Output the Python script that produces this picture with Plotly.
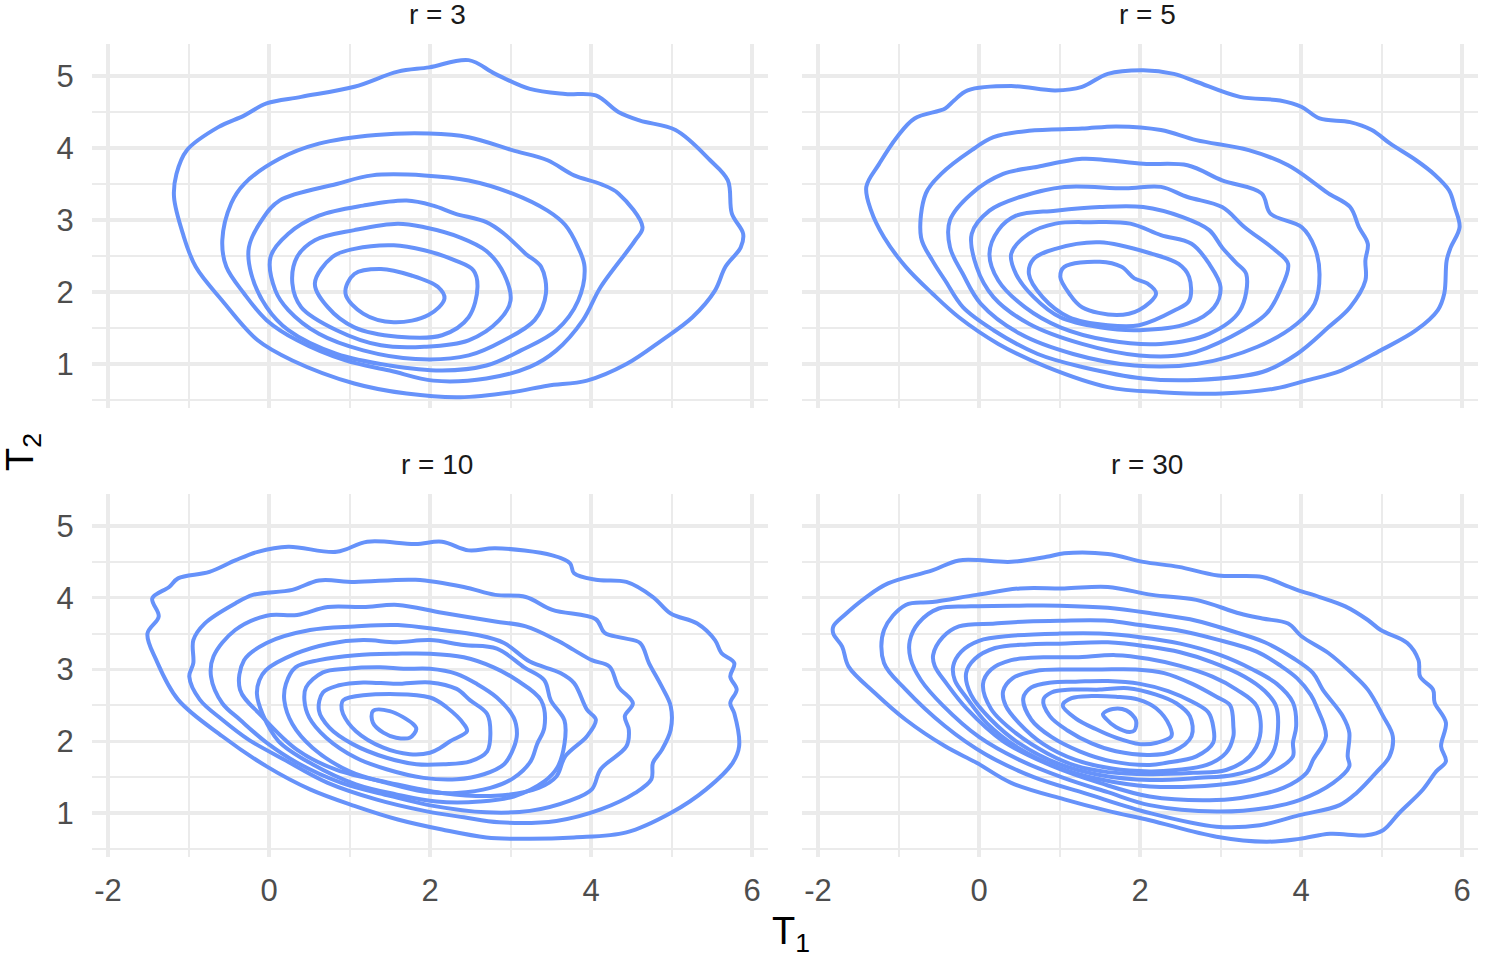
import plotly.graph_objects as go

# ---------------- data (contour paths, data units) ----------------
PANEL_TITLES = ["r = 3", "r = 5", "r = 10", "r = 30"]

X_MAJOR = [-2, 0, 2, 4, 6]
X_MINOR = [-1, 1, 3, 5]
Y_MAJOR = [1, 2, 3, 4, 5]
Y_MINOR = [0.5, 1.5, 2.5, 3.5, 4.5]
X_TICKTEXT = ["-2", "0", "2", "4", "6"]
Y_TICKTEXT = ["1", "2", "3", "4", "5"]

R3_CONTOURS = [
    [(2.48,5.22),(2.81,5.03),(3.24,4.82),(3.68,4.75),(4.06,4.73),(4.34,4.5),(4.61,4.38),(5.05,4.25),
     (5.48,3.83),(5.70,3.55),(5.75,3.09),(5.89,2.81),(5.86,2.62),(5.67,2.35),(5.54,2.02),(5.26,1.65),
     (4.88,1.33),(4.44,1.0),(3.95,0.77),(3.46,0.70),(3.02,0.61),(2.37,0.54),(1.71,0.59),(1.06,0.73),
     (0.29,1.05),(-0.14,1.33),(-0.58,1.88),(-0.91,2.35),(-1.07,2.81),(-1.18,3.32),(-1.15,3.64),
     (-1.02,3.97),(-0.63,4.29),(-0.31,4.45),(-0.03,4.62),(0.4,4.71),(1.06,4.85),(1.6,5.06),(1.99,5.12)],
    [(1.99,4.2),(2.48,4.15),(3.02,3.97),(3.46,3.83),(3.79,3.62),(4.12,3.5),(4.34,3.37),(4.64,2.90),
     (4.55,2.72),(4.12,2.07),(3.90,1.61),(3.57,1.19),(3.24,0.96),(2.70,0.80),(2.04,0.77),(1.5,0.91),
     (0.95,1.05),(0.35,1.33),(-0.03,1.61),(-0.31,1.98),(-0.53,2.35),(-0.58,2.72),(-0.47,3.23),
     (-0.31,3.5),(0.13,3.85),(0.62,4.06),(1.33,4.18)],
    [(1.93,3.62),(2.48,3.55),(3.02,3.37),(3.46,3.13),(3.68,2.93),(3.84,2.62),(3.92,2.35),(3.84,1.88),
     (3.57,1.47),(3.13,1.19),(2.70,0.98),(2.15,0.91),(1.5,0.98),(0.84,1.14),(0.24,1.47),(-0.03,1.79),
     (-0.22,2.25),(-0.25,2.62),(-0.09,3.0),(0.13,3.27),(0.84,3.50),(1.28,3.62)],
    [(1.71,3.27),(2.04,3.2),(2.31,3.09),(2.70,2.97),(2.92,2.81),(3.19,2.53),(3.38,2.35),(3.44,1.98),
     (3.30,1.61),(2.92,1.33),(2.48,1.12),(1.82,1.07),(1.17,1.19),(0.62,1.42),(0.24,1.75),(0.08,2.02),
     (0.02,2.49),(0.24,2.81),(0.62,3.06),(1.17,3.2)],
    [(1.6,2.95),(1.93,2.90),(2.37,2.76),(2.70,2.57),(2.92,2.25),(3.0,1.88),(2.86,1.61),(2.48,1.33),
     (1.93,1.24),(1.39,1.26),(0.84,1.47),(0.40,1.79),(0.29,2.12),(0.35,2.49),(0.57,2.72),(1.06,2.86)],
    [(1.55,2.65),(1.93,2.58),(2.31,2.44),(2.54,2.30),(2.59,2.07),(2.48,1.65),(2.15,1.40),(1.6,1.38),
     (1.06,1.51),(0.73,1.79),(0.57,2.12),(0.79,2.49),(1.06,2.6)],
    [(1.39,2.32),(1.77,2.23),(2.10,2.07),(2.18,1.91),(1.98,1.68),(1.55,1.58),(1.17,1.70),(0.95,1.98),
     (1.06,2.25)],
]

R5_CONTOURS = [
    [(2.04,5.08),(2.42,5.03),(2.70,4.92),(3.24,4.71),(3.74,4.66),(4.01,4.57),(4.23,4.41),(4.61,4.36),
     (4.88,4.25),(5.11,4.06),(5.43,3.83),(5.65,3.64),(5.84,3.41),(5.91,3.18),(5.97,2.90),(5.86,2.62),
     (5.81,2.44),(5.78,1.98),(5.70,1.75),(5.43,1.47),(4.99,1.19),(4.50,0.91),(4.06,0.77),(3.68,0.66),
     (3.02,0.59),(2.26,0.61),(1.6,0.68),(0.84,0.96),(0.24,1.28),(-0.25,1.65),(-0.58,1.98),(-0.91,2.35),
     (-1.18,2.76),(-1.34,3.13),(-1.40,3.46),(-1.24,3.78),(-1.02,4.15),(-0.80,4.41),(-0.42,4.55),
     (-0.31,4.66),(-0.14,4.80),(0.40,4.86),(0.95,4.80),(1.28,4.85),(1.6,5.03)],
    [(1.71,4.30),(2.26,4.25),(2.70,4.11),(3.35,3.97),(3.84,3.76),(4.17,3.51),(4.34,3.37),(4.61,3.18),
     (4.72,2.90),(4.83,2.67),(4.80,2.44),(4.80,2.16),(4.61,1.79),(4.34,1.51),(3.95,1.14),(3.52,0.89),
     (2.70,0.78),(2.04,0.80),(1.28,0.96),(0.73,1.14),(0.18,1.47),(-0.20,1.79),(-0.42,2.16),(-0.58,2.44),
     (-0.72,2.76),(-0.66,3.37),(-0.47,3.64),(-0.09,3.97),(0.18,4.15),(0.62,4.24),(1.28,4.27)],
    [(1.28,3.85),(1.60,3.83),(2.04,3.78),(2.59,3.76),(3.02,3.55),(3.51,3.37),(3.62,3.09),(4.01,2.90),
     (4.17,2.62),(4.23,2.25),(4.17,1.84),(3.95,1.56),(3.46,1.24),(2.70,1.0),(1.93,0.98),(1.17,1.14),
     (0.51,1.42),(0.02,1.84),(-0.20,2.25),(-0.36,2.62),(-0.36,3.0),(-0.09,3.37),(0.30,3.64),(0.73,3.74)],
    [(1.06,3.46),(1.82,3.44),(2.26,3.46),(2.59,3.32),(3.02,3.18),(3.30,2.90),(3.68,2.58),(3.84,2.39),
     (3.74,2.02),(3.57,1.70),(3.13,1.38),(2.59,1.14),(1.99,1.12),(1.28,1.28),(0.62,1.56),(0.18,1.93),
     (-0.03,2.35),(-0.09,2.81),(0.13,3.13),(0.51,3.32)],
    [(0.95,3.13),(1.50,3.18),(2.04,3.18),(2.53,3.04),(2.86,2.86),(3.02,2.62),(3.19,2.41),(3.32,2.25),
     (3.24,1.74),(2.86,1.42),(2.26,1.28),(1.60,1.33),(1.01,1.51),(0.57,1.79),(0.24,2.16),(0.13,2.53),
     (0.24,2.86),(0.46,3.06)],
    [(0.95,2.95),(1.39,2.97),(1.88,2.95),(2.26,2.79),(2.64,2.67),(2.86,2.39),(3.0,2.07),(2.92,1.79),
     (2.59,1.56),(1.99,1.47),(1.50,1.51),(1.01,1.65),(0.68,1.93),(0.46,2.25),(0.40,2.53),(0.62,2.81)],
    [(1.50,2.69),(2.15,2.53),(2.48,2.39),(2.61,2.21),(2.61,1.88),(2.42,1.74),(1.99,1.54),(1.60,1.54),
     (1.12,1.65),(0.79,1.93),(0.62,2.25),(0.68,2.46),(0.95,2.60)],
    [(1.50,2.42),(1.77,2.35),(1.93,2.19),(2.09,2.12),(2.20,1.98),(1.99,1.75),(1.71,1.68),(1.28,1.79),
     (1.12,1.98),(1.01,2.21),(1.06,2.35)],
]

R10_CONTOURS = [
    [(1.22,4.78),(1.82,4.75),(2.15,4.78),(2.48,4.66),(2.81,4.69),(3.52,4.59),(3.74,4.48),(3.79,4.34),
     (4.06,4.25),(4.44,4.22),(4.77,4.01),(4.99,3.78),(5.32,3.64),(5.54,3.41),(5.62,3.23),(5.78,3.09),
     (5.73,2.90),(5.81,2.72),(5.73,2.53),(5.78,2.39),(5.84,1.93),(5.76,1.70),(5.43,1.33),(4.99,1.0),
     (4.44,0.73),(3.79,0.66),(3.24,0.64),(2.70,0.66),(2.15,0.77),(1.60,0.91),(1.06,1.10),(0.51,1.33),
     (-0.03,1.65),(-0.58,2.07),(-1.13,2.58),(-1.40,3.13),(-1.51,3.50),(-1.37,3.74),(-1.45,3.99),
     (-1.24,4.15),(-1.13,4.27),(-0.74,4.36),(-0.42,4.52),(-0.14,4.64),(0.24,4.71),(0.84,4.64)],
    [(1.82,4.25),(2.42,4.15),(2.81,4.04),(3.19,4.01),(3.52,3.83),(4.06,3.70),(4.17,3.51),(4.39,3.44),
     (4.61,3.37),(4.72,3.09),(4.88,2.76),(4.99,2.49),(4.99,2.16),(4.88,1.88),(4.77,1.70),(4.75,1.47),
     (4.55,1.28),(4.12,1.05),(3.57,0.89),(2.86,0.87),(2.42,0.94),(1.93,1.03),(1.33,1.19),(0.73,1.42),
     (0.18,1.75),(-0.25,2.02),(-0.58,2.30),(-0.86,2.58),(-0.99,2.90),(-0.94,3.09),(-0.94,3.41),
     (-0.80,3.64),(-0.42,3.92),(-0.20,4.04),(0.29,4.11),(0.62,4.24),(1.06,4.22)],
    [(1.17,3.87),(1.60,3.90),(2.15,3.79),(2.81,3.67),(3.19,3.60),(3.57,3.41),(3.79,3.27),(4.01,3.13),
     (4.23,3.04),(4.34,2.76),(4.52,2.53),(4.42,2.35),(4.47,2.16),(4.44,1.93),(4.12,1.61),(4.01,1.33),
     (3.73,1.17),(3.24,1.03),(2.70,1.01),(2.04,1.10),(1.50,1.24),(0.90,1.42),(0.35,1.70),(-0.03,1.98),
     (-0.36,2.30),(-0.58,2.53),(-0.72,2.90),(-0.69,3.18),(-0.42,3.55),(-0.03,3.75),(0.35,3.76),(0.73,3.87)],
    [(1.06,3.60),(1.60,3.62),(2.15,3.55),(2.59,3.48),(2.92,3.37),(3.24,3.11),(3.62,2.95),(3.79,2.81),
     (3.95,2.44),(4.06,2.30),(3.95,2.07),(3.68,1.79),(3.57,1.51),(3.35,1.35),(2.81,1.24),(2.15,1.28),
     (1.50,1.42),(0.84,1.60),(0.35,1.88),(-0.09,2.35),(-0.36,2.72),(-0.31,3.13),(-0.03,3.37),(0.51,3.55)],
    [(1.17,3.41),(1.58,3.38),(2.0,3.41),(2.42,3.34),(2.83,3.29),(3.17,3.03),(3.42,2.85),(3.50,2.57),
     (3.67,2.29),(3.67,1.96),(3.58,1.63),(3.42,1.44),(3.04,1.23),(2.62,1.16),(2.08,1.16),(1.58,1.26),
     (1.08,1.40),(0.54,1.68),(0.12,2.0),(-0.08,2.38),(-0.15,2.66),(-0.12,2.85),(-0.04,2.99),(0.33,3.22),
     (0.75,3.36)],
    [(1.08,3.2),(1.58,3.22),(2.0,3.22),(2.42,3.17),(2.79,3.03),(3.08,2.85),(3.38,2.57),(3.42,2.19),
     (3.33,1.96),(3.25,1.72),(3.04,1.49),(2.75,1.35),(2.33,1.28),(1.92,1.30),(1.46,1.42),(1.0,1.58),
     (0.54,1.91),(0.29,2.24),(0.19,2.57),(0.21,2.80),(0.33,3.03),(0.62,3.13)],
    [(0.96,3.01),(1.38,3.03),(1.67,3.01),(2.0,3.01),(2.33,2.94),(2.58,2.80),(2.83,2.61),(3.04,2.33),
     (3.08,2.10),(3.04,1.91),(2.92,1.68),(2.67,1.54),(2.33,1.47),(1.92,1.49),(1.46,1.61),(1.08,1.77),
     (0.71,2.05),(0.5,2.33),(0.44,2.57),(0.46,2.75),(0.67,2.96)],
    [(0.87,2.78),(1.17,2.82),(1.58,2.80),(2.0,2.82),(2.33,2.73),(2.5,2.57),(2.71,2.38),(2.75,2.10),
     (2.71,1.86),(2.5,1.72),(2.17,1.68),(1.83,1.68),(1.46,1.77),(1.04,1.96),(0.75,2.19),(0.62,2.43),
     (0.67,2.68)],
    [(0.92,2.57),(1.17,2.64),(2.0,2.61),(2.21,2.47),(2.42,2.24),(2.46,2.14),(2.25,2.0),(2.13,1.91),
     (2.0,1.84),(1.75,1.82),(1.42,1.91),(1.08,2.14),(0.92,2.38),(0.9,2.5)],
    [(1.29,2.42),(1.5,2.42),(1.79,2.24),(1.83,2.17),(1.75,2.05),(1.58,2.05),(1.42,2.12),(1.29,2.26)],
]

R30_CONTOURS = [
    [(-1.81,3.60),(-1.67,3.76),(-1.40,4.01),(-1.13,4.20),(-0.58,4.38),(-0.25,4.52),(0.40,4.50),
     (0.84,4.57),(1.06,4.62),(1.60,4.61),(2.04,4.50),(2.48,4.43),(2.97,4.31),(3.52,4.29),(3.79,4.18),
     (3.95,4.11),(4.23,4.01),(4.55,3.88),(4.83,3.69),(4.99,3.55),(5.32,3.37),(5.46,3.13),(5.48,2.90),
     (5.64,2.72),(5.66,2.54),(5.80,2.26),(5.74,1.93),(5.80,1.72),(5.68,1.58),(5.51,1.32),(5.22,1.0),
     (5.02,0.76),(4.81,0.69),(4.36,0.71),(3.98,0.64),(3.57,0.60),(2.95,0.67),(2.12,0.90),(1.60,1.03),
     (1.06,1.19),(0.40,1.42),(-0.03,1.70),(-0.42,1.93),(-0.91,2.30),(-1.29,2.67),(-1.62,3.04),
     (-1.70,3.32),(-1.81,3.50)],
    [(-1.18,3.55),(-0.91,3.90),(-0.58,3.94),(-0.03,4.04),(0.51,4.13),(1.06,4.13),(1.60,4.15),(2.15,4.04),
     (2.70,3.97),(3.24,3.78),(3.52,3.71),(3.84,3.64),(4.01,3.46),(4.34,3.23),(4.61,2.97),(4.83,2.72),
     (5.02,2.35),(5.14,2.07),(5.10,1.79),(4.93,1.56),(4.69,1.28),(4.48,1.11),(3.98,0.97),(3.49,0.83),
     (2.95,0.81),(2.12,1.0),(1.33,1.27),(0.68,1.50),(0.08,1.82),(-0.42,2.21),(-0.91,2.72),(-1.18,3.09)],
    [(-0.86,3.40),(-0.75,3.65),(-0.5,3.85),(-0.1,3.88),(0.5,3.89),(1.0,3.89),(1.6,3.86),(2.15,3.78),
     (2.7,3.68),(3.1,3.55),(3.55,3.38),(3.9,3.16),(4.15,2.95),(4.27,2.72),(4.52,2.35),(4.60,2.12),
     (4.58,1.79),(4.60,1.65),(4.40,1.42),(3.98,1.18),(3.57,1.07),(2.95,1.02),(2.12,1.11),(1.6,1.29),
     (1.05,1.49),(0.5,1.74),(0.0,2.06),(-0.45,2.5),(-0.72,2.85),(-0.85,3.15)],
    [(-0.57,3.20),(-0.45,3.45),(-0.25,3.6),(0.2,3.64),(0.6,3.67),(1.0,3.68),(1.6,3.68),(2.0,3.62),
     (2.45,3.55),(2.95,3.42),(3.45,3.25),(3.75,3.05),(3.95,2.88),(4.12,2.65),(4.19,2.49),(4.31,2.07),
     (4.15,1.74),(4.07,1.56),(3.78,1.35),(3.36,1.23),(2.95,1.18),(2.12,1.23),(1.5,1.42),(0.9,1.66),
     (0.3,2.0),(-0.15,2.45),(-0.4,2.8),(-0.55,3.05)],
    [(-0.32,3.05),(-0.22,3.25),(0.0,3.4),(0.4,3.47),(1.0,3.50),(1.5,3.5),(2.0,3.45),(2.5,3.36),
     (3.0,3.2),(3.4,3.0),(3.7,2.8),(3.90,2.54),(3.94,2.21),(3.90,1.98),(3.90,1.79),(3.69,1.60),
     (3.36,1.46),(2.95,1.39),(2.12,1.37),(1.5,1.47),(1.0,1.63),(0.5,1.9),(0.1,2.25),(-0.15,2.6),
     (-0.3,2.85)],
    [(-0.16,2.95),(-0.05,3.15),(0.2,3.3),(0.6,3.35),(1.0,3.36),(1.6,3.38),(2.1,3.32),(2.5,3.24),
     (2.9,3.1),(3.3,2.9),(3.55,2.7),(3.69,2.49),(3.71,2.12),(3.65,1.84),(3.49,1.65),(3.16,1.53),
     (2.74,1.49),(2.12,1.46),(1.5,1.53),(1.0,1.68),(0.5,1.97),(0.15,2.3),(-0.1,2.65)],
    [(0.05,2.8),(0.15,3.0),(0.4,3.13),(0.8,3.17),(1.2,3.17),(1.7,3.2),(2.1,3.15),(2.5,3.05),(2.9,2.9),
     (3.2,2.72),(3.45,2.49),(3.49,2.07),(3.36,1.79),(3.07,1.60),(2.66,1.56),(2.12,1.54),(1.6,1.57),
     (1.2,1.66),(0.85,1.83),(0.45,2.12),(0.15,2.45)],
    [(0.30,2.7),(0.42,2.88),(0.7,2.98),(1.1,3.0),(1.5,3.0),(1.95,3.0),(2.3,2.95),(2.65,2.8),(2.95,2.62),
     (3.12,2.5),(3.16,2.2),(3.16,2.07),(3.07,1.84),(2.83,1.67),(2.45,1.60),(2.12,1.58),(1.65,1.62),
     (1.2,1.74),(0.8,1.96),(0.5,2.25),(0.33,2.5)],
    [(0.55,2.6),(0.65,2.75),(0.9,2.82),(1.2,2.83),(1.6,2.84),(2.0,2.8),(2.35,2.7),(2.65,2.55),
     (2.85,2.4),(2.91,2.2),(2.91,1.98),(2.70,1.79),(2.33,1.70),(2.12,1.67),(1.65,1.72),(1.25,1.86),
     (0.9,2.06),(0.65,2.3)],
    [(0.80,2.58),(0.9,2.68),(1.15,2.72),(1.5,2.72),(1.85,2.74),(2.2,2.65),(2.45,2.53),(2.62,2.35),
     (2.64,2.07),(2.41,1.86),(2.12,1.81),(1.7,1.86),(1.4,1.97),(1.1,2.15),(0.88,2.35)],
    [(1.04,2.5),(1.15,2.6),(1.4,2.63),(1.7,2.62),(1.98,2.58),(2.2,2.46),(2.37,2.21),(2.39,2.07),
     (2.21,1.98),(2.0,1.96),(1.7,2.05),(1.45,2.17),(1.2,2.32)],
    [(1.54,2.38),(1.66,2.45),(1.83,2.43),(1.95,2.29),(1.93,2.15),(1.87,2.13),(1.70,2.20),(1.58,2.31)],
]

PANELS = [R3_CONTOURS, R5_CONTOURS, R10_CONTOURS, R30_CONTOURS]

# ---------------- figure ----------------
W, H = 1495, 957
LINE_COLOR = "rgb(102,146,250)"
GRID = "#EBEBEB"
FONT = "Liberation Sans, Arial, Helvetica, sans-serif"

# panel pixel boxes (left, right, top, bottom)
BOXES = [
    (91.9, 768.1, 44.3, 408.0),
    (801.9, 1478.1, 44.3, 408.0),
    (91.9, 768.1, 494.4, 856.8),
    (801.9, 1478.1, 494.4, 856.8),
]

fig = go.Figure()
for i, contours in enumerate(PANELS):
    ax = "" if i == 0 else str(i + 1)
    for c in contours:
        xs = [p[0] for p in c] + [c[0][0]]
        ys = [p[1] for p in c] + [c[0][1]]
        fig.add_trace(go.Scatter(
            x=xs, y=ys, mode="lines",
            line=dict(color=LINE_COLOR, width=4, shape="spline", smoothing=1.0),
            xaxis="x" + ax, yaxis="y" + ax, showlegend=False, hoverinfo="skip",
        ))

layout = dict(
    width=W, height=H, autosize=False,
    margin=dict(l=0, r=0, t=0, b=0, pad=0),
    paper_bgcolor="white", plot_bgcolor="white",
    showlegend=False, hovermode=False,
    font=dict(family=FONT, color="#4D4D4D"),
)

for i, (l, r, t, b) in enumerate(BOXES):
    n = "" if i == 0 else str(i + 1)
    bottom_row = i >= 2
    left_col = i % 2 == 0
    layout["xaxis" + n] = dict(
        domain=[l / W, r / W], range=[-2.2, 6.2], anchor="y" + n,
        tickmode="array", tickvals=X_MAJOR, ticktext=X_TICKTEXT,
        showticklabels=bottom_row, ticks="outside" if bottom_row else "",
        ticklen=6, tickcolor="rgba(0,0,0,0)",
        tickfont=dict(size=31, color="#4D4D4D", family=FONT),
        showgrid=True, gridcolor=GRID, gridwidth=3.5,
        zeroline=False, showline=False,
        minor=dict(tickvals=X_MINOR, showgrid=True, gridcolor=GRID, gridwidth=2, ticks=""),
        fixedrange=True,
    )
    layout["yaxis" + n] = dict(
        domain=[1 - b / H, 1 - t / H], range=[0.39, 5.44], anchor="x" + n,
        tickmode="array", tickvals=Y_MAJOR, ticktext=Y_TICKTEXT,
        showticklabels=left_col, ticks="outside" if left_col else "",
        ticklen=11, tickcolor="rgba(0,0,0,0)",
        tickfont=dict(size=31, color="#4D4D4D", family=FONT),
        showgrid=True, gridcolor=GRID, gridwidth=3.5,
        zeroline=False, showline=False,
        minor=dict(tickvals=Y_MINOR, showgrid=True, gridcolor=GRID, gridwidth=2, ticks=""),
        fixedrange=True,
    )

annotations = []
for i, (l, r, t, b) in enumerate(BOXES):
    annotations.append(dict(
        text=PANEL_TITLES[i], x=((l + r) / 2 + 7) / W, y=1 - (t - 30) / H,
        xref="paper", yref="paper", xanchor="center", yanchor="middle",
        showarrow=False, font=dict(size=28, color="#1A1A1A", family=FONT),
    ))
annotations.append(dict(
    text="T<sub>1</sub>", x=791 / W, y=1 - 934 / H, xref="paper", yref="paper",
    xanchor="center", yanchor="middle", showarrow=False,
    font=dict(size=38, color="black", family=FONT),
))
annotations.append(dict(
    text="T<sub>2</sub>", x=23 / W, y=1 - 452 / H, xref="paper", yref="paper",
    xanchor="center", yanchor="middle", showarrow=False, textangle=-90,
    font=dict(size=38, color="black", family=FONT),
))
layout["annotations"] = annotations

fig.update_layout(**layout)
fig.write_html(
    "out.html",
    config={"displayModeBar": False, "staticPlot": True},
    post_script="document.body.style.margin='0';document.body.style.overflow='hidden';",
)
